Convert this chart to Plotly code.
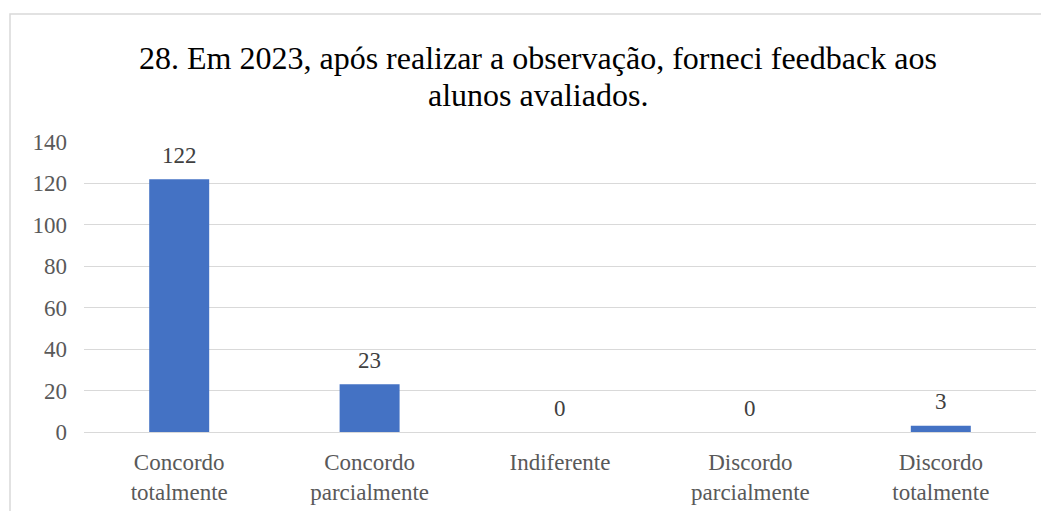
import plotly.graph_objects as go

categories = ["Concordo<br>totalmente", "Concordo<br>parcialmente", "Indiferente",
              "Discordo<br>parcialmente", "Discordo<br>totalmente"]
counts = [122, 23, 0, 0, 3]
y_ticks = [0, 20, 40, 60, 80, 100, 120, 140]

title_lines = ["28. Em 2023, após realizar a observação, forneci feedback aos",
               "alunos avaliados."]

serif = "Liberation Serif, Times New Roman, serif"

# the page puts the figure 8px in from the top-left corner
W, H = 1049, 511
L, T, R, B = 76, 134, 21, 87
plot_w = W - L - R
plot_h = H - T - B

fig = go.Figure()
fig.add_trace(go.Bar(
    x=categories,
    y=counts,
    marker=dict(color="#4472C4", line=dict(width=0)),
    width=0.315,
    hoverinfo="x+y",
))

# data labels above each bar
for cat, val in zip(categories, counts):
    fig.add_annotation(
        x=cat, y=val, xref="x", yref="y",
        text=str(val), showarrow=False,
        yanchor="middle", yshift=24,
        font=dict(family=serif, size=23, color="#404040"),
    )

# title, two lines placed separately for tighter line spacing
# (positions given in figure pixels, converted to plot-area paper coords)
for i, line in enumerate(title_lines):
    px_x, px_y = 530, 50 + 37 * i
    fig.add_annotation(
        x=(px_x - L) / plot_w, y=(H - B - px_y) / plot_h,
        xref="paper", yref="paper",
        text=line, showarrow=False,
        xanchor="center", yanchor="middle",
        font=dict(family=serif, size=32, color="#000000"),
    )

fig.update_layout(
    width=W,
    height=H,
    margin=dict(l=L, r=R, t=T, b=B),
    paper_bgcolor="white",
    plot_bgcolor="white",
    showlegend=False,
    font=dict(family=serif, size=23, color="#595959"),
    xaxis=dict(
        showgrid=False,
        showline=False,
        ticks="",
        ticklabelstandoff=14,
        tickfont=dict(family=serif, size=23, color="#595959"),
    ),
    yaxis=dict(
        range=[0, 140],
        tickvals=y_ticks,
        showgrid=True,
        gridcolor="#D9D9D9",
        gridwidth=1,
        zeroline=True,
        zerolinecolor="#D9D9D9",
        zerolinewidth=1,
        ticks="",
        ticklabelstandoff=16,
        tickfont=dict(family=serif, size=23, color="#595959"),
    ),
)

# chart outline (Excel-style border, cropped on the right and bottom)
fig.add_shape(
    type="rect", xref="paper", yref="paper",
    x0=(2 - L) / plot_w, x1=(1070 - L) / plot_w,
    y0=(H - B - 530) / plot_h, y1=(H - B - 6) / plot_h,
    line=dict(color="#D9D9D9", width=1.5),
    fillcolor="rgba(0,0,0,0)",
    layer="below",
)

fig.write_html("out.html")
